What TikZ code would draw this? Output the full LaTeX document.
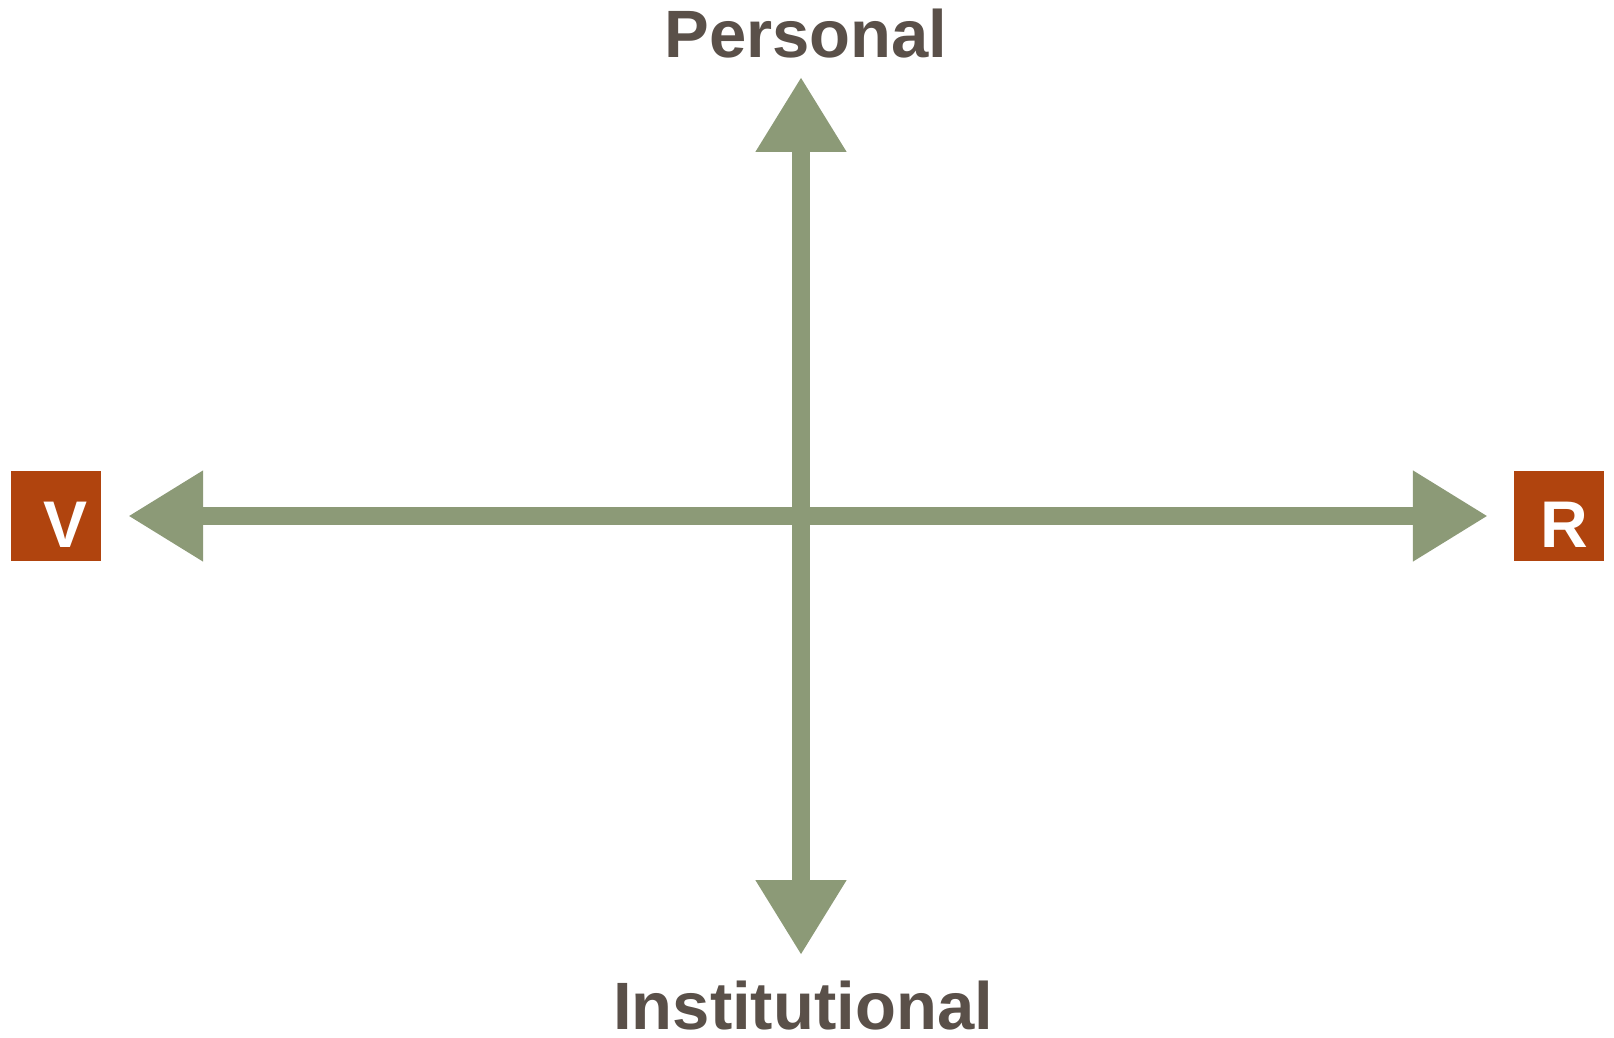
\documentclass[tikz,border=0pt]{standalone}
\usepackage{fontspec}
\setmainfont{Liberation Sans}
\usetikzlibrary{arrows.meta}
\definecolor{axisgreen}{HTML}{8C9A77}
\definecolor{boxorange}{HTML}{B0440E}
\definecolor{labelgrey}{HTML}{5A5049}
\tikzset{
  endbox/.style={fill=boxorange, text=white, minimum size=90pt, inner sep=0pt,
    font=\fontsize{66pt}{66pt}\selectfont\bfseries, text height=63pt, text depth=0pt},
  axislabel/.style={text=labelgrey, inner sep=0pt, anchor=base,
    font=\fontsize{67pt}{67pt}\selectfont\bfseries},
  axisarrow/.style={draw=axisgreen, line width=18pt,
    {Triangle[length=75pt,width=86pt,fill=axisgreen]}-{Triangle[length=75pt,width=86pt,fill=axisgreen]}}
}
\begin{document}
\begin{tikzpicture}[x=1pt,y=-1pt]
  \useasboundingbox (0,0) rectangle (1614,1038);
  \node[endbox] (V) at (56,516) {\hspace*{20pt}V};
  \node[endbox] (R) at (1559,516) {\hspace*{10pt}R};
  \node[axislabel] (P) at (806,58) {Personal};
  \node[axislabel] (I) at (803,1029) {Institutional};
  \coordinate (top) at (801,77);
  \coordinate (bot) at (801,955);
  \draw[axisarrow, shorten <=27pt, shorten >=26pt] (V.east) -- (R.west);
  \draw[axisarrow] (top) -- (bot);
\end{tikzpicture}
\end{document}
